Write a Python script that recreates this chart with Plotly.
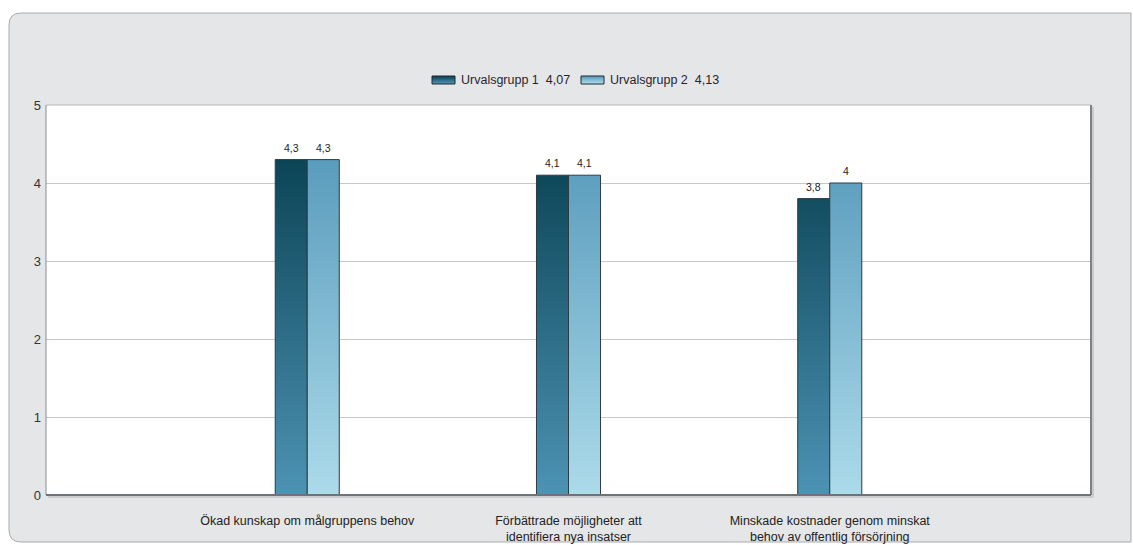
import plotly.graph_objects as go

# Survey statements and mean scores per sample group
categories = [
    "Ökad kunskap om målgruppens behov",
    "Förbättrade möjligheter att<br>identifiera nya insatser",
    "Minskade kostnader genom minskat<br>behov av offentlig försörjning",
]
group1_name = "Urvalsgrupp 1"
group2_name = "Urvalsgrupp 2"
group1_values = [4.3, 4.1, 3.8]
group2_values = [4.3, 4.1, 4.0]
y_ticks = [0, 1, 2, 3, 4, 5]

FONT = "Liberation Sans, Arial, sans-serif"
W, H = 1133, 545
ML, MR, MT, MB = 46, 42, 105, 50
PW, PH = W - ML - MR, H - MT - MB
BAR_W = 0.1226  # width of a single bar in category units

group1_grad = [[0, "#4d93b4"], [1, "#0b4456"]]
group2_grad = [[0, "#acdbea"], [1, "#5a9cbd"]]


def fmt(v):
    return f"{v:g}".replace(".", ",")


def fmt_mean(vals):
    return f"{sum(vals) / len(vals):.2f}".replace(".", ",")


def bar_polys(values, offset):
    xs, ys = [], []
    for i, v in enumerate(values):
        c = i + 1
        x0 = c + offset * BAR_W
        x1 = x0 + BAR_W
        xs += [x0, x1, x1, x0, x0, None]
        ys += [0, 0, v, v, 0, None]
    return xs, ys


def px_x(p):
    return (p - ML) / PW


def px_y(p):
    return (H - MB - p) / PH


def lerp_hex(c0, c1, t):
    a = [int(c0[i:i + 2], 16) for i in (1, 3, 5)]
    b = [int(c1[i:i + 2], 16) for i in (1, 3, 5)]
    return "#" + "".join(f"{round(a[k] + (b[k] - a[k]) * t):02x}" for k in range(3))


fig = go.Figure()
annotations = []

series = [
    (group1_values, -1, group1_grad, group1_name),
    (group2_values, 0, group2_grad, group2_name),
]

for vals, off, grad, name in series:
    xs, ys = bar_polys(vals, off)
    fig.add_trace(go.Scatter(
        x=xs, y=ys, mode="lines", fill="toself",
        fillgradient=dict(type="vertical", colorscale=grad),
        line=dict(width=1, color="#2e3b41"),
        name=name, showlegend=False, hoverinfo="skip",
    ))
    # value labels above each bar
    for i, v in enumerate(vals):
        annotations.append(dict(
            x=i + 1 + (off + 0.5) * BAR_W, y=v, xref="x", yref="y",
            text=fmt(v), showarrow=False, yanchor="bottom", yshift=4,
            font=dict(family=FONT, size=10.5, color="#222222"),
        ))

# legend: gradient swatch + label per series
legend_items = [(432, 459), (581, 608)]
sw_w, sw_h, leg_y = 23, 8, 80
for (sx, tx), (vals, _, grad, name) in zip(legend_items, series):
    n = sw_h
    top, bot = grad[1][1], grad[0][1]
    strips = []
    for k in range(n):
        strips.append(dict(
            type="rect", xref="paper", yref="paper",
            x0=px_x(sx), x1=px_x(sx + sw_w),
            y0=px_y(leg_y - sw_h / 2 + k + 1), y1=px_y(leg_y - sw_h / 2 + k),
            fillcolor=lerp_hex(top, bot, k / (n - 1)), line=dict(width=0),
        ))
    strips.append(dict(
        type="rect", xref="paper", yref="paper",
        x0=px_x(sx), x1=px_x(sx + sw_w),
        y0=px_y(leg_y + sw_h / 2), y1=px_y(leg_y - sw_h / 2),
        fillcolor="rgba(0,0,0,0)", line=dict(color="#1e2a30", width=1),
    ))
    annotations.append(dict(
        x=px_x(tx), y=px_y(leg_y), xref="paper", yref="paper",
        xanchor="left", yanchor="middle", showarrow=False,
        text=f"{name}\u00a0\u00a0{fmt_mean(vals)}",
        font=dict(family=FONT, size=12.5, color="#2a1f2e"),
    ))
    for s in strips:
        fig.add_shape(**s)

# rounded background panel
x0, x1, y0, y1 = px_x(9), px_x(1131), px_y(13), px_y(542)
rx, ry = 12 / PW, 12 / PH
panel = (
    f"M {x0},{y0 - ry} Q {x0},{y0} {x0 + rx},{y0} L {x1},{y0} L {x1},{y1} "
    f"L {x0 + rx},{y1} Q {x0},{y1} {x0},{y1 + ry} Z"
)
frame = [
    dict(type="path", path=panel, xref="paper", yref="paper", layer="below",
         fillcolor="#e5e6e8", line=dict(color="#a9abad", width=1)),
    dict(type="rect", x0=0, x1=1, y0=0, y1=1, xref="paper", yref="paper",
         layer="below", fillcolor="#ffffff", line=dict(width=0)),
    dict(type="line", x0=0, x1=1, y0=1, y1=1, xref="paper", yref="paper",
         line=dict(color="#b5b7b9", width=1)),
    dict(type="line", x0=0, x1=0, y0=0, y1=1, xref="paper", yref="paper",
         line=dict(color="#8a8d90", width=1)),
    dict(type="line", x0=1 + 2 / PW, x1=1 + 2 / PW, y0=-2 / PH, y1=1 - 2 / PH,
         xref="paper", yref="paper", line=dict(color="#c9cbcd", width=2)),
    dict(type="line", x0=1, x1=1, y0=0, y1=1, xref="paper", yref="paper",
         line=dict(color="#7d8184", width=2)),
    dict(type="line", x0=2 / PW, x1=1 + 2 / PW, y0=-2 / PH, y1=-2 / PH,
         xref="paper", yref="paper", line=dict(color="#c9cbcd", width=2)),
    dict(type="line", x0=0, x1=1, y0=0, y1=0, xref="paper", yref="paper",
         line=dict(color="#6f7376", width=2)),
]
for s in frame:
    fig.add_shape(**s)

fig.update_layout(
    width=W, height=H,
    margin=dict(l=ML, r=MR, t=MT, b=MB, autoexpand=False),
    paper_bgcolor="#ffffff",
    plot_bgcolor="rgba(0,0,0,0)",
    font=dict(family=FONT, size=11, color="#222222"),
    annotations=annotations,
    showlegend=False,
    xaxis=dict(
        range=[0, 4], tickmode="array", tickvals=[1, 2, 3], ticktext=categories,
        showgrid=False, zeroline=False, showline=False, ticks="",
        tickfont=dict(family=FONT, size=12.5, color="#222222"),
        ticklabelstandoff=16, automargin=False, fixedrange=True,
    ),
    yaxis=dict(
        range=[0, 5], tickmode="array", tickvals=y_ticks,
        showgrid=True, gridcolor="#c6c8ca", gridwidth=1,
        zeroline=False, showline=False, ticks="",
        tickfont=dict(family=FONT, size=13, color="#333333"),
        ticklabelstandoff=4, automargin=False, fixedrange=True,
    ),
)

fig.write_html("out.html")
